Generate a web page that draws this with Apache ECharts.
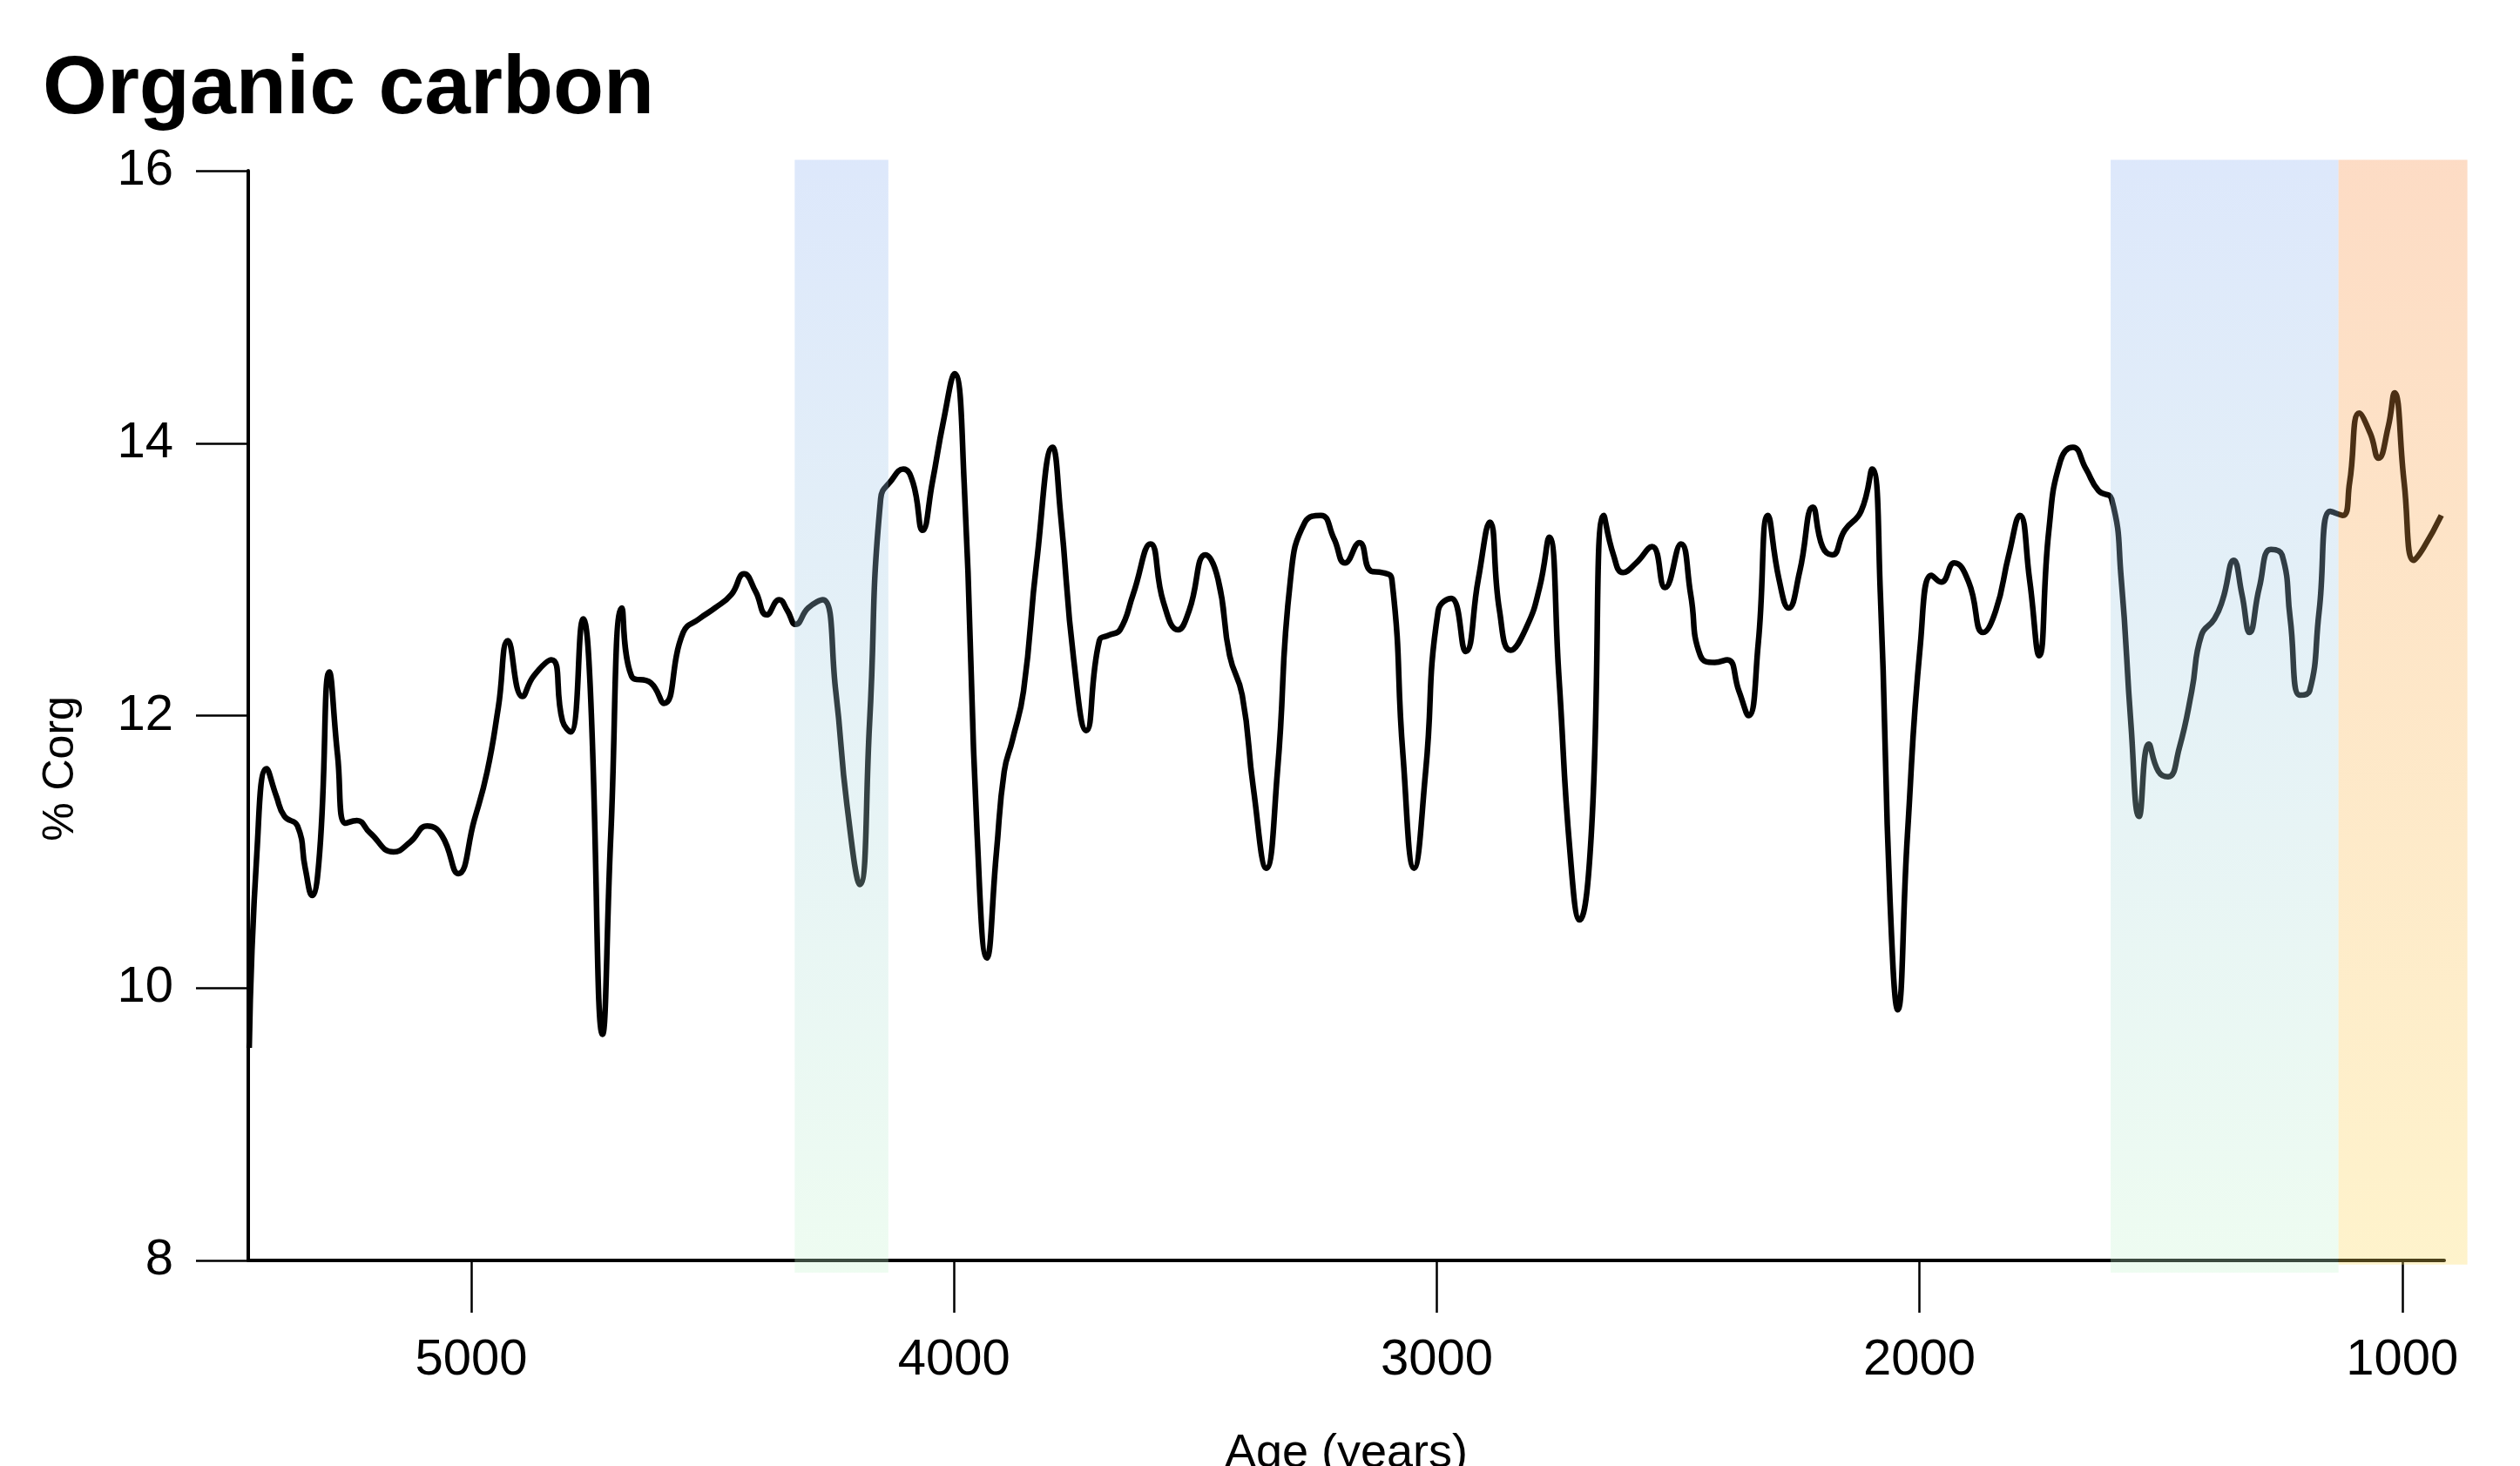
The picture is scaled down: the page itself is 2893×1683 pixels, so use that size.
<!DOCTYPE html>
<html>
<head>
<meta charset="utf-8">
<script src="https://cdn.jsdelivr.net/npm/echarts@6/dist/echarts.min.js"></script>
<style>
html,body{margin:0;padding:0;background:#fff;}
#chart{width:2893px;height:1683px;}
</style>
</head>
<body>
<div id="chart"></div>
<script>
// ---- data ----
const ages = [5460,5444,5424,5404,5387,5360,5344,5330,5314,5294,5277,5260,5237,5210,5161,5127,5091,5061,5027,4994,4967,4944,4924,4894,4871,4834,4811,4794,4768,4754,4728,4711,4688,4668,4628,4601,4561,4528,4495,4461,4435,4411,4388,4362,4345,4328,4302,4272,4245,4222,4195,4175,4152,4129,4105,4085,4065,4045,4022,3999,3979,3952,3932,3912,3896,3879,3856,3829,3796,3779,3752,3726,3699,3679,3656,3629,3593,3566,3536,3513,3479,3453,3429,3403,3380,3353,3330,3303,3273,3240,3213,3190,3160,3136,3113,3093,3070,3047,3023,2997,2970,2940,2914,2890,2870,2847,2814,2787,2767,2747,2724,2704,2680,2654,2634,2614,2587,2554,2527,2494,2474,2454,2424,2398,2374,2354,2334,2314,2291,2271,2248,2221,2201,2181,2155,2121,2098,2081,2061,2045,2025,1998,1975,1955,1928,1898,1868,1842,1815,1792,1772,1752,1732,1708,1682,1655,1629,1602,1582,1562,1545,1525,1505,1485,1462,1436,1416,1389,1372,1349,1332,1316,1296,1272,1249,1232,1212,1192,1172,1149,1123,1109,1089,1066,1049,1029,1016,996,976,956,919];
const corg = [9.56,11.0,11.61,11.41,11.26,11.19,10.88,10.68,11.0,12.32,11.71,11.21,11.23,11.14,11.0,11.07,11.19,11.12,10.84,11.23,11.59,12.06,12.55,12.14,12.29,12.41,11.96,11.88,12.71,12.24,9.66,11.12,12.79,12.29,12.24,12.09,12.61,12.71,12.79,12.89,13.04,12.91,12.74,12.85,12.77,12.67,12.79,12.85,12.18,11.35,10.76,11.94,13.59,13.73,13.81,13.71,13.36,13.71,14.16,14.51,13.71,11.12,10.22,11.0,11.59,11.82,12.18,13.12,13.97,13.47,12.41,11.89,12.55,12.59,12.63,12.89,13.26,12.83,12.63,12.77,13.18,13.0,12.44,12.15,11.47,10.88,11.59,13.0,13.42,13.47,13.3,13.12,13.27,13.06,13.05,13.0,11.71,10.88,11.59,12.77,12.86,12.47,13.0,13.42,12.77,12.48,12.65,12.94,13.31,12.29,11.0,10.5,11.12,13.47,13.18,13.05,13.12,13.24,12.94,13.26,12.89,12.44,12.39,12.41,12.18,12.0,12.53,13.47,13.0,12.79,13.06,13.53,13.24,13.18,13.36,13.5,13.81,12.89,10.64,9.84,11.12,12.53,13.03,12.98,13.12,12.98,12.61,12.77,13.18,13.47,13.0,12.44,13.36,13.87,13.97,13.81,13.65,13.59,13.0,11.94,11.26,11.79,11.59,11.55,11.76,12.18,12.59,12.71,12.85,13.14,12.89,12.61,12.94,13.22,13.18,12.71,12.15,12.18,12.77,13.5,13.47,13.71,14.22,14.07,13.89,14.12,14.37,13.71,13.14,13.23,13.47];
const xTickValues = [5000, 4000, 3000, 2000, 1000];
// shaded periods (age from, age to, %Corg top, %Corg bottom)
const bandFrom = [4330, 1604, 1132];
const bandTo = [4136, 1132, 865];
const bandTop = [16.08, 16.08, 16.08];
const bandBottom = [7.91, 7.91, 7.97];

// ---- styles ----
const bandColors = [
  ['rgba(142,178,242,0.3)', 'rgba(198,245,208,0.3)'],
  ['rgba(142,178,242,0.3)', 'rgba(198,245,208,0.3)'],
  ['rgba(248,138,62,0.3)', 'rgba(252,215,85,0.3)']
];
const FONT = '"Liberation Sans", Arial, sans-serif';

const lineData = ages.map((a, i) => [a, corg[i]]);
const bandData = bandFrom.map((f, i) => [f, bandTo[i], bandTop[i], bandBottom[i], i]);

const chart = echarts.init(document.getElementById('chart'), null, {renderer: 'canvas'});
chart.setOption({
  animation: false,
  backgroundColor: '#ffffff',
  title: {
    text: 'Organic carbon',
    left: 44, top: 51,
    textStyle: {fontFamily: FONT, fontWeight: 'bold', fontSize: 95, color: '#000'}
  },
  grid: {left: 285, right: 87, top: 196, bottom: 236, containLabel: false, outerBoundsMode: 'none'},
  xAxis: {
    type: 'value', inverse: true, min: 913, max: 5462,
    axisLine: {show: true, onZero: false, lineStyle: {color: '#000', width: 4}},
    axisTick: {show: true, customValues: xTickValues, length: 60, lineStyle: {color: '#000', width: 2.5}},
    axisLabel: {customValues: xTickValues, formatter: v => String(v), margin: 86, fontFamily: FONT, fontSize: 58, color: '#000'},
    splitLine: {show: false},
    name: 'Age (years)', nameLocation: 'middle', nameGap: 195,
    nameTextStyle: {fontFamily: FONT, fontSize: 54, color: '#000'}
  },
  yAxis: {
    type: 'value', min: 8, max: 16, interval: 2,
    axisLine: {show: true, lineStyle: {color: '#000', width: 4}},
    axisTick: {show: true, length: 60, lineStyle: {color: '#000', width: 2.5}},
    axisLabel: {margin: 86, fontFamily: FONT, fontSize: 58, color: '#000'},
    splitLine: {show: false},
    name: '% Corg', nameLocation: 'middle', nameGap: 190,
    nameTextStyle: {fontFamily: FONT, fontSize: 50, color: '#000', padding: [0, 122, 0, 0]}
  },
  series: [
    {
      type: 'line', data: lineData, smooth: 0.5, showSymbol: false, clip: false, z: 2,
      lineStyle: {color: '#000', width: 6.5}
    },
    {
      type: 'custom', data: bandData, z: 10, clip: false, silent: true,
      encode: {x: [0, 1], y: [2, 3]},
      renderItem: function (params, api) {
        const p1 = api.coord([api.value(0), api.value(2)]);
        const p2 = api.coord([api.value(1), api.value(3)]);
        const c = bandColors[api.value(4)];
        return {
          type: 'rect',
          shape: {x: Math.min(p1[0], p2[0]), y: Math.min(p1[1], p2[1]), width: Math.abs(p2[0] - p1[0]), height: Math.abs(p2[1] - p1[1])},
          style: {fill: new echarts.graphic.LinearGradient(0, 0, 0, 1, [{offset: 0, color: c[0]}, {offset: 1, color: c[1]}])}
        };
      }
    }
  ]
});
</script>
</body>
</html>
